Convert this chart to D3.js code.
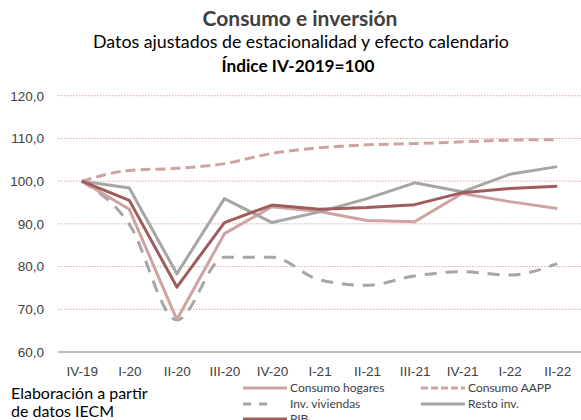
<!DOCTYPE html>
<html>
<head>
<meta charset="utf-8">
<script src="https://cdn.jsdelivr.net/npm/d3@7"></script>
<style>
  body { margin: 0; background: #fff; }
  svg { font-family: Lato, "Open Sans", sans-serif; }
</style>
</head>
<body>
<svg id="chart" width="581" height="420"></svg>
<script>
var quarters = ["IV-19", "I-20", "II-20", "III-20", "IV-20", "I-21", "II-21", "III-21", "IV-21", "I-22", "II-22"]
var hogares = [100, 93.4, 67.6, 87.7, 94.0, 92.9, 90.8, 90.5, 97.1, 95.2, 93.6]
var aapp = [100, 102.5, 103.0, 104.1, 106.5, 107.8, 108.5, 108.8, 109.2, 109.6, 109.7]
var viviendas = [100, 89.9, 67.5, 82.2, 82.2, 76.9, 75.6, 77.8, 78.8, 78.0, 80.7]
var resto = [100, 98.4, 78.3, 95.9, 90.3, 92.8, 95.9, 99.6, 97.5, 101.6, 103.4]
var pib = [100, 95.5, 75.2, 90.3, 94.4, 93.4, 93.8, 94.5, 97.3, 98.3, 98.8]
var yTicks = [60, 70, 80, 90, 100, 110, 120]

var series = [
  {name: "Consumo hogares", values: hogares, color: "#d0a3a3", dash: null, smooth: false},
  {name: "Consumo AAPP", values: aapp, color: "#d0a3a3", dash: "10,5", smooth: true},
  {name: "Inv. viviendas", values: viviendas, color: "#a6a6a6", dash: "12,9", smooth: true},
  {name: "Resto inv.", values: resto, color: "#a6a6a6", dash: null, smooth: false},
  {name: "PIB", values: pib, color: "#a05c5c", dash: null, smooth: false}
]

var svg = d3.select("#chart")
var x = d3.scalePoint().domain(quarters).range([58, 581]).padding(0.5)
var y = d3.scaleLinear().domain([60, 120]).range([352, 95.7])

// titles
svg.append("text").attr("x", 300).attr("y", 26).attr("text-anchor", "middle")
  .style("font-size", "21px").style("font-weight", "bold").attr("fill", "#404040")
  .text("Consumo e inversión")
svg.append("text").attr("x", 301).attr("y", 48).attr("text-anchor", "middle")
  .style("font-size", "17.8px").attr("fill", "#000")
  .text("Datos ajustados de estacionalidad y efecto calendario")
svg.append("text").attr("x", 298).attr("y", 72).attr("text-anchor", "middle")
  .style("font-size", "17.2px").style("font-weight", "bold").attr("fill", "#000")
  .text("Índice IV-2019=100")

// grid
svg.append("g").selectAll("line").data(yTicks.filter(function(d){ return d > 60 }))
  .join("line")
  .attr("x1", 58).attr("x2", 581)
  .attr("y1", function(d){ return y(d) }).attr("y2", function(d){ return y(d) })
  .attr("stroke", "#d8a8a8").attr("stroke-width", 1).attr("stroke-dasharray", "1.5,1.5")

// y axis labels
var yAxis = d3.axisLeft(y).tickValues(yTicks).tickSize(0).tickPadding(0)
  .tickFormat(function(d){ return d.toFixed(1).replace(".", ",") })
var ya = svg.append("g").attr("transform", "translate(44,0)").call(yAxis)
ya.select(".domain").remove()
ya.selectAll("text").style("font-size", "13.5px").attr("fill", "#404040").attr("font-family", null)

// x axis
var xAxis = d3.axisBottom(x).tickSize(0).tickPadding(14)
var xa = svg.append("g").attr("transform", "translate(0,352)").call(xAxis)
xa.select(".domain").attr("stroke", "#a6a6a6").attr("stroke-width", 1.5)
  .attr("d", "M58,0H581")
xa.selectAll("text").style("font-size", "13.5px").attr("fill", "#404040").attr("font-family", null)

// lines
var order = [2, 1, 0, 3, 4]
order.forEach(function(i) {
  var s = series[i]
  var line = d3.line()
    .x(function(d, j){ return x(quarters[j]) })
    .y(function(d){ return y(d) })
    .curve(s.smooth ? d3.curveMonotoneX : d3.curveLinear)
  svg.append("path").datum(s.values)
    .attr("d", line).attr("fill", "none")
    .attr("stroke", s.color).attr("stroke-width", 3)
    .attr("stroke-dasharray", s.dash)
    .attr("stroke-linejoin", "round")
})

// legend
var legendPos = [
  {x: 243, y: 392}, {x: 421, y: 392},
  {x: 243, y: 408}, {x: 421, y: 408},
  {x: 243, y: 423}
]
var legendDash = [null, "7,3", "8,8", null, null]
series.forEach(function(s, i) {
  var p = legendPos[i]
  var g = svg.append("g").attr("transform", "translate(" + p.x + "," + p.y + ")")
  g.append("line").attr("x1", 0).attr("x2", i == 2 ? 24 : 44).attr("y1", -4).attr("y2", -4)
    .attr("stroke", s.color).attr("stroke-width", 3)
    .attr("stroke-dasharray", legendDash[i])
  g.append("text").attr("x", 47).attr("y", 0)
    .style("font-size", "12px").attr("fill", "#404040").text(s.name)
})

// source note
svg.append("text").attr("x", 11).attr("y", 399).style("font-size", "16px").attr("fill", "#000")
  .text("Elaboración a partir")
svg.append("text").attr("x", 11).attr("y", 417).style("font-size", "16px").attr("fill", "#000")
  .text("de datos IECM")
</script>
</body>
</html>
